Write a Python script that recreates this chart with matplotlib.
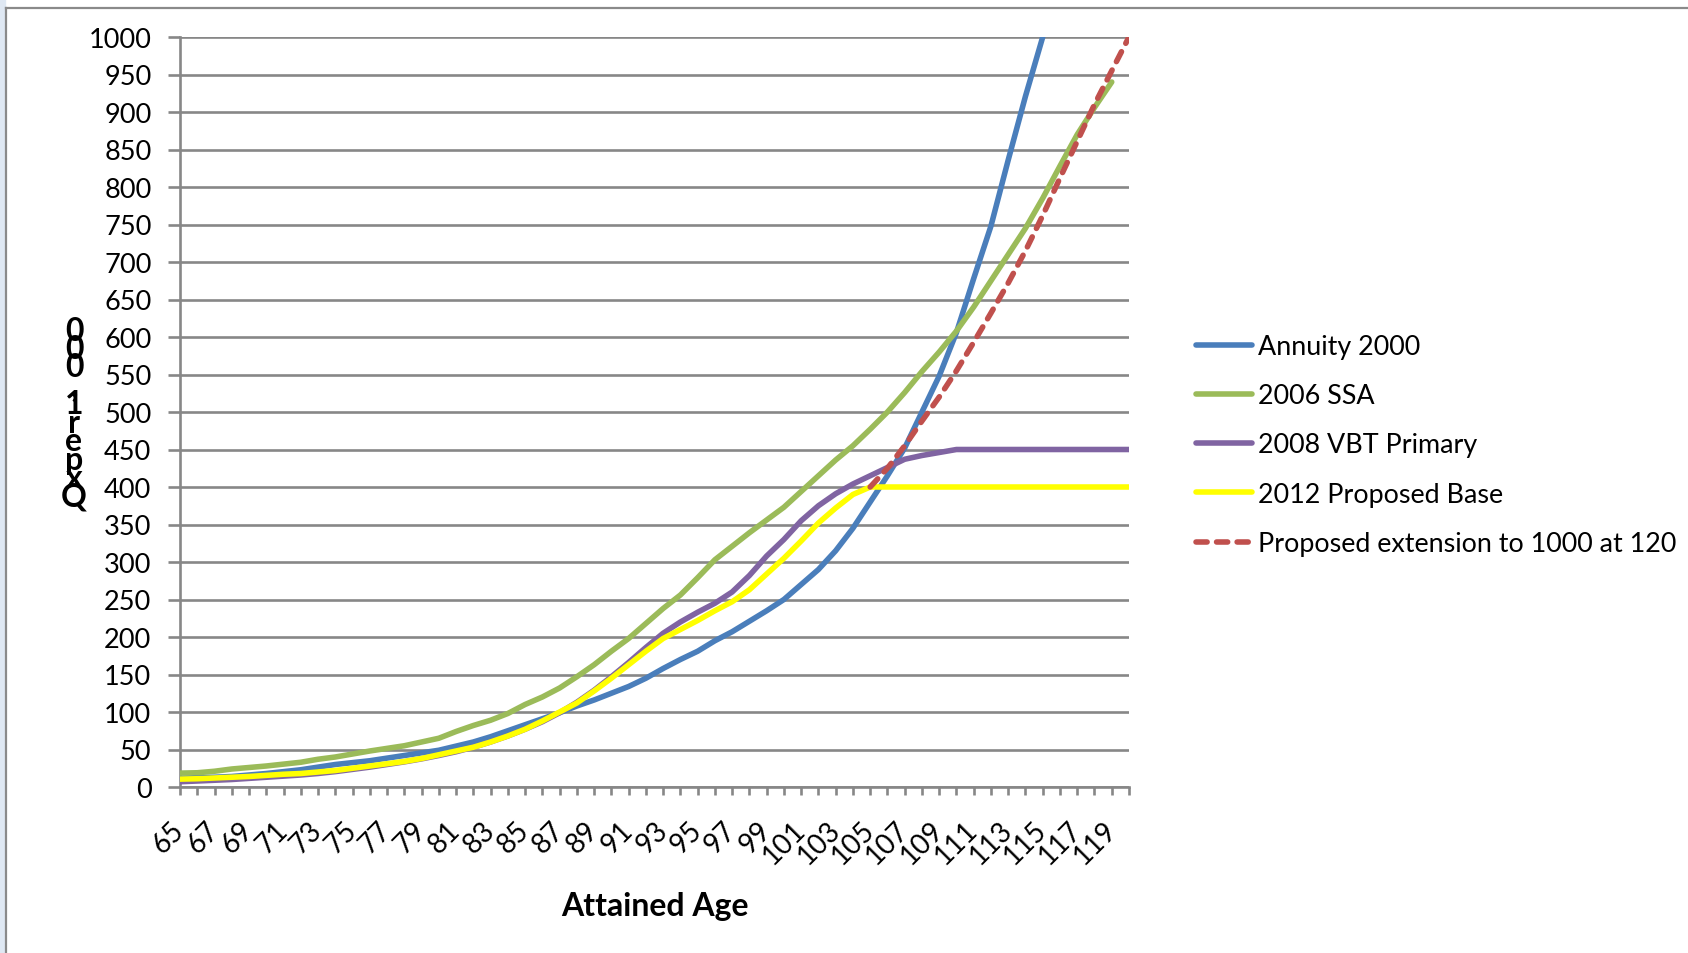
import matplotlib
matplotlib.use("Agg")
import matplotlib.pyplot as plt
from matplotlib.lines import Line2D
from matplotlib.patches import Rectangle

plt.rcParams['font.family'] = ['Lato', 'DejaVu Sans']

# Mortality rates per 1000 by attained age
ages = list(range(65, 121))

annuity_2000 = [11.5, 12.5, 13, 14, 16, 18, 20.5, 23, 26.5, 30,
                32.5, 35, 38.5, 42, 45.5, 49, 54.5, 60, 67, 75,
                83, 91, 99, 108, 116, 125, 134, 145, 158, 170,
                181, 195, 207, 221, 235, 250, 270, 290, 315, 345,
                380, 415, 452, 500, 548, 606, 678, 748, 836, 921, 1000]   # ages 65-115

ssa_2006 = [18.5, 19, 21, 24, 26, 28, 30.5, 33, 37, 40,
            44, 48, 51.5, 55, 60, 65, 74, 82, 89, 98,
            110, 120, 132, 147, 163, 181, 198, 218, 238, 256,
            279, 303, 321, 339, 356, 373, 394, 415, 436, 455,
            477, 500, 526, 554, 580, 608, 640, 675, 710, 745,
            785, 828, 870, 906, 940]   # ages 65-119

vbt_2008 = [7, 8, 9, 10, 11.5, 13, 14.5, 16, 18, 20.5,
            23.5, 26.5, 30, 33.5, 37.5, 42, 47, 53, 60, 68,
            77, 87, 99, 113, 129, 147, 166, 186, 205, 220,
            233, 245, 260, 282, 308, 330, 355, 375, 391, 404,
            415, 426, 437, 442, 446, 450, 450, 450, 450, 450,
            450, 450, 450, 450, 450, 450]   # ages 65-120

proposed_2012 = [10.5, 11, 12, 13, 14, 15.5, 17, 18, 20, 22,
                 25, 28, 31, 34, 38, 43, 48, 53, 60, 68,
                 77, 88, 100, 112, 128, 145, 163, 181, 198, 210,
                 222, 235, 247, 263, 284, 305, 328, 352, 372, 390,
                 400, 400, 400, 400, 400, 400, 400, 400, 400, 400,
                 400, 400, 400, 400, 400, 400]   # ages 65-120

ext_ages = list(range(105, 121))
extension = [400, 425, 455, 488, 520, 555, 593, 632, 672, 715,
             762, 812, 861, 910, 955, 1000]

series_names = ["Annuity 2000", "2006 SSA", "2008 VBT Primary",
                "2012 Proposed Base", "Proposed extension to 1000 at 120"]
colors = ["#4A7EBB", "#9BBB59", "#8064A2", "#FFFF00", "#C0504D"]

grid_c = "#878787"
lw = 4.0
dash = (2.0, 1.7)

fig = plt.figure(figsize=(16.88, 9.54), dpi=100)
W, H = 1688, 954
ax = fig.add_axes([180 / W, 1 - 788 / H, (1129 - 180) / W, (788 - 38) / H])

ax.plot(ages[:len(annuity_2000)], annuity_2000, color=colors[0], lw=lw, solid_capstyle='round', zorder=3)
ax.plot(ages[:len(ssa_2006)], ssa_2006, color=colors[1], lw=lw, solid_capstyle='round', zorder=4)
ax.plot(ages, vbt_2008, color=colors[2], lw=lw, solid_capstyle='round', zorder=5)
ax.plot(ages, proposed_2012, color=colors[3], lw=lw, solid_capstyle='round', zorder=6)
ax.plot(ext_ages, extension, color=colors[4], lw=lw, dashes=dash,
        dash_capstyle='round', zorder=7)

ax.set_xlim(65, 120)
ax.set_ylim(0, 1000)
ax.set_yticks(range(0, 1001, 50))
ax.set_xticks(ages)
ax.set_xticklabels([str(a) if (a - 65) % 2 == 0 and a < 120 else '' for a in ages])

ax.grid(axis='y', color=grid_c, lw=1.9)
ax.set_axisbelow(True)
for s in ['top', 'right']:
    ax.spines[s].set_visible(False)
for s in ['left', 'bottom']:
    ax.spines[s].set_color(grid_c)
    ax.spines[s].set_linewidth(1.9)

ax.tick_params(axis='y', length=8.6, width=1.9, color=grid_c, labelsize=19.5, pad=12)
ax.tick_params(axis='x', length=5.8, width=1.9, color=grid_c, labelsize=20, pad=22)
for lab in ax.get_xticklabels():
    lab.set_rotation(45)
    lab.set_ha('right')
    lab.set_va('center')
    lab.set_rotation_mode('anchor')

ax.set_xlabel("Attained Age", fontsize=23, fontweight='bold', labelpad=0)
ax.xaxis.set_label_coords(0.5, -(907 - 788) / 750, transform=ax.transAxes)
ax.xaxis.label.set_va('center')

# stacked y-axis title
fig.text(74 / W, 1 - 414 / H, "\n".join(reversed("Qxper1,000")),
         ha='center', va='center', fontsize=23, fontweight='bold',
         linespacing=0.56)

handles = [Line2D([], [], color=c, lw=lw, solid_capstyle='round') for c in colors[:4]]
handles.append(Line2D([], [], color=colors[4], lw=lw, dashes=dash, dash_capstyle='round'))
fig.legend(handles, series_names, loc='center left',
           bbox_to_anchor=(1185 / W, 1 - 446 / H), frameon=False,
           fontsize=19.4, handlelength=2.1, handletextpad=0.2,
           labelspacing=0.9, borderaxespad=0)

# chart frame
fig.patches.append(Rectangle((0, 0), 5 / W, 1, transform=fig.transFigure,
                             color='#dfe8f3', zorder=0))
fig.add_artist(Line2D([6 / W, 6 / W], [0, 1 - 9 / H], transform=fig.transFigure,
                      color='#8a8a8a', lw=1.6))
fig.add_artist(Line2D([6 / W, 1], [1 - 9 / H, 1 - 9 / H], transform=fig.transFigure,
                      color='#8a8a8a', lw=1.6))

fig.savefig("out.png", dpi=100)
